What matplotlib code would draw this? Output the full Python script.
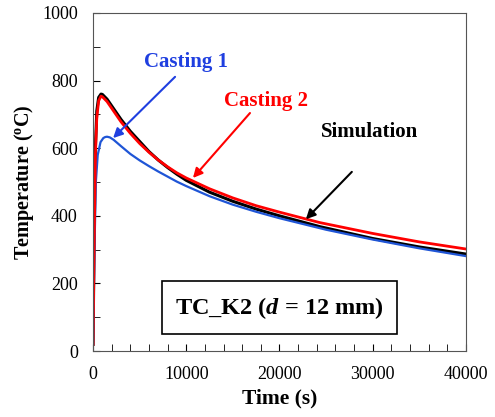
import matplotlib.pyplot as plt
from matplotlib.ticker import MultipleLocator

plt.rcParams['font.family'] = 'Liberation Serif'
plt.rcParams['mathtext.fontset'] = 'custom'
plt.rcParams['mathtext.rm'] = 'Liberation Serif:bold'
plt.rcParams['mathtext.it'] = 'Liberation Serif:bold:italic'
plt.rcParams['mathtext.bf'] = 'Liberation Serif:bold'

# cooling curves at thermocouple K2
t_sim = [0, 100, 250, 400, 600, 850, 1000, 1500, 2000, 3000, 4000, 5000, 6000, 7000,
         8000, 9000, 10000, 12500, 15000, 17500, 20000, 24340, 30000, 35000, 40000]
sim = [20, 300, 600, 710, 750, 760, 759, 745, 725, 685, 650, 620, 590, 565,
       543, 523, 505, 470, 443, 420, 400, 368, 333, 308, 287]

t_c2 = [0, 100, 250, 400, 600, 850, 1000, 1500, 2000, 3000, 4000, 5000, 6000, 7000,
        8000, 9000, 10000, 12500, 15000, 17500, 20000, 24340, 30000, 35000, 40000]
cast2 = [20, 280, 580, 690, 740, 754, 752, 738, 718, 678, 644, 614, 588, 565,
         545, 527, 512, 480, 453, 430, 411, 380, 348, 323, 302]

t_c1 = [0, 150, 300, 500, 800, 1100, 1300, 1500, 1800, 2200, 3000, 4000, 5000, 6000,
        7000, 8000, 9000, 10000, 12500, 15000, 17500, 20000, 25000, 30000, 35000, 40000]
cast1 = [20, 300, 500, 580, 618, 630, 633, 634, 632, 625, 606, 583, 564, 547,
         531, 516, 501, 488, 458, 433, 412, 393, 359, 330, 304, 281]

BLUE = '#1f3fe0'


def main():
    fig = plt.figure(figsize=(4.95, 4.17), dpi=100)
    ax = fig.add_axes([0.188, 0.158, 0.753, 0.811])

    ax.plot(t_c1, cast1, color='#1f55d6', lw=1.6)
    ax.plot(t_c2, cast2, color='red', lw=2.0)
    ax.plot(t_sim, sim, color='black', lw=2.2, zorder=1)

    ax.set_xlim(0, 40000)
    ax.set_ylim(0, 1000)
    ax.xaxis.set_major_locator(MultipleLocator(10000))
    ax.xaxis.set_minor_locator(MultipleLocator(2000))
    ax.yaxis.set_major_locator(MultipleLocator(200))
    ax.yaxis.set_minor_locator(MultipleLocator(100))
    ax.tick_params(which='both', direction='in', top=False, right=False,
                   labelsize=13, pad=11, length=5)
    for s in ax.spines.values():
        s.set_color('#555555')

    ax.set_xlabel('Time (s)', fontsize=15.5, fontweight='bold', labelpad=4)
    ax.set_ylabel(r'Temperature ($^{\mathrm{o}}$C)', fontsize=14.5,
                  fontweight='bold', labelpad=4)

    # labels and their arrows
    ax.text(10000, 855, 'Casting 1', color=BLUE, fontsize=15, fontweight='bold',
            ha='center', va='center')
    ax.annotate('', xy=(2150, 630), xytext=(8800, 811),
                arrowprops=dict(arrowstyle='-|>', color=BLUE, lw=1.5,
                                shrinkA=0, shrinkB=0, mutation_scale=14))
    ax.text(18600, 740, 'Casting 2', color='red', fontsize=15, fontweight='bold',
            ha='center', va='center')
    ax.annotate('', xy=(10720, 512), xytext=(16840, 704),
                arrowprops=dict(arrowstyle='-|>', color='red', lw=1.5,
                                shrinkA=0, shrinkB=0, mutation_scale=14))
    ax.text(29700, 648, 'Simulation', color='black', fontsize=15, fontweight='bold',
            ha='center', va='center')
    ax.annotate('', xy=(22840, 390), xytext=(27770, 530),
                arrowprops=dict(arrowstyle='-|>', color='black', lw=1.5,
                                shrinkA=0, shrinkB=0, mutation_scale=14))

    ax.text(20000, 128, r'TC_K2 ($d$ = 12 mm)', fontsize=17.5, fontweight='bold',
            ha='center', va='center',
            bbox=dict(boxstyle='square,pad=0.55', fc='white', ec='black', lw=1.2))

    fig.savefig('out.png', dpi=100)


if __name__ == '__main__':
    main()
